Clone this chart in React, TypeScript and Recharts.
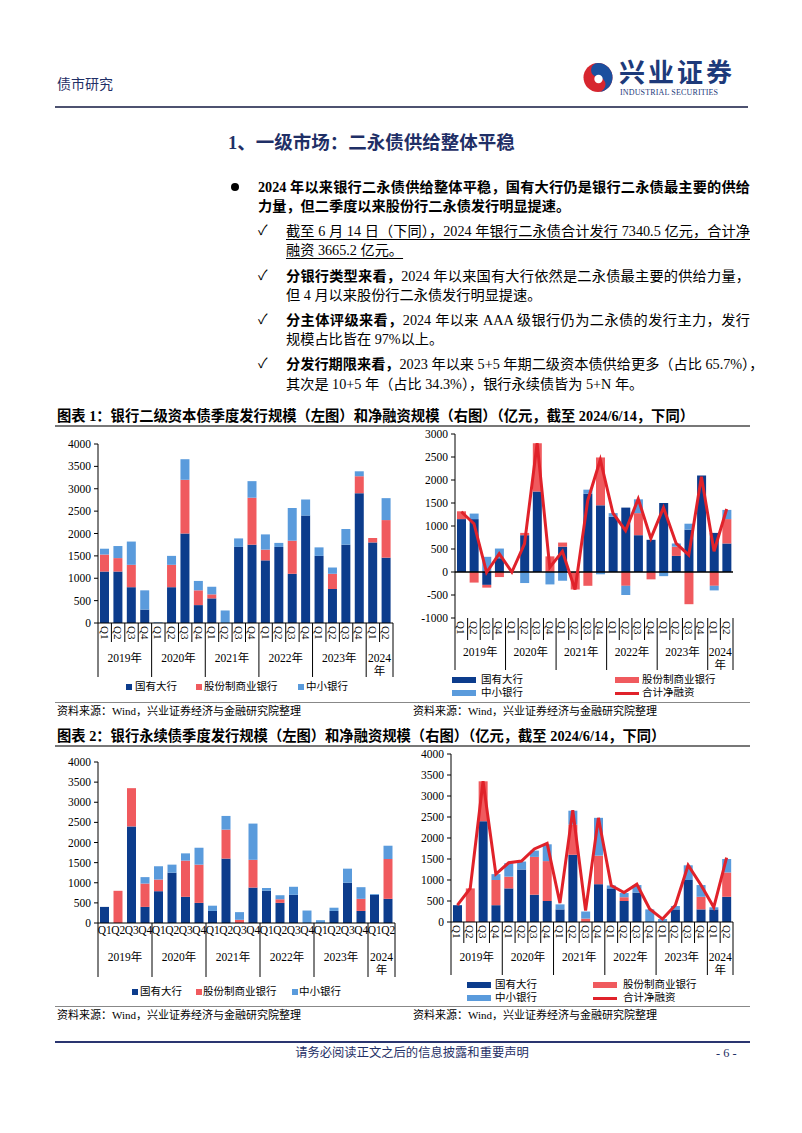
import React from 'react';
import { ComposedChart, Bar, Line, XAxis, YAxis, ReferenceLine } from 'recharts';

const FONT = '"Liberation Serif", "Noto Sans CJK SC", serif';
const DARK = '#0c3c8c';
const RED = '#f05a5e';
const LIGHT = '#5a9bdc';
const NET = '#e0222a';
const NAVY = '#1f2f66';

const QUARTERS = ['Q1', 'Q2', 'Q3', 'Q4', 'Q1', 'Q2', 'Q3', 'Q4', 'Q1', 'Q2', 'Q3', 'Q4',
  'Q1', 'Q2', 'Q3', 'Q4', 'Q1', 'Q2', 'Q3', 'Q4', 'Q1', 'Q2'];
const YEARS = ['2019年', '2020年', '2021年', '2022年', '2023年', '2024年'];
const YEAR_SIZES = [4, 4, 4, 4, 4, 2];
const YEAR_START = YEAR_SIZES.map((_, k) => YEAR_SIZES.slice(0, k).reduce((a, b) => a + b, 0));

// 图表1 左：二级资本债季度发行
const SUB_ISSUE_STATE = [1150, 1150, 800, 300, 0, 800, 2000, 400, 550, 0, 1700, 1750, 1400, 1700, 1100, 2400, 1500, 760, 1750, 2900, 1800, 1460];
const SUB_ISSUE_JOINT = [380, 300, 500, 0, 0, 500, 1200, 330, 90, 0, 0, 1050, 240, 0, 740, 0, 0, 340, 0, 380, 100, 840];
const SUB_ISSUE_SMALL = [130, 270, 520, 430, 15, 200, 460, 210, 170, 280, 190, 370, 340, 90, 730, 360, 190, 140, 350, 110, 0, 490];

// 图表1 右：二级资本债净融资
const SUB_NET_STATE = [1150, 1150, -280, 300, 0, 800, 1750, 0, 550, 0, 1700, 1450, 1200, 1400, 800, 700, 1500, 350, 920, 2100, 850, 620];
const SUB_NET_JOINT = [170, -230, -60, -110, 0, 50, 1050, 340, 90, -380, -300, 1040, 0, -300, 480, -160, 0, 200, -700, 0, -300, 530];
const SUB_NET_SMALL = [0, 120, 330, 210, 0, -240, 0, -270, -190, 0, 90, -50, 80, -200, 300, 0, -90, 70, 130, 0, -100, 200];
const SUB_NET_TOTAL = [1310, 1050, -10, 400, 0, 610, 2800, 100, 450, -380, 1550, 2440, 1280, 900, 1590, 730, 1400, 620, 370, 2070, 450, 1370];

// 图表2 左：永续债季度发行
const PERP_ISSUE_STATE = [400, 0, 2400, 400, 790, 1250, 650, 500, 300, 1600, 0, 880, 800, 500, 700, 0, 0, 300, 1000, 300, 700, 600];
const PERP_ISSUE_JOINT = [0, 800, 950, 580, 290, 0, 900, 950, 0, 720, 80, 690, 0, 90, 0, 0, 0, 0, 0, 300, 0, 990];
const PERP_ISSUE_SMALL = [0, 0, 0, 160, 330, 200, 180, 420, 130, 340, 190, 900, 70, 100, 200, 310, 70, 80, 350, 290, 20, 330];

// 图表2 右：永续债净融资
const PERP_NET_STATE = [400, 0, 2400, 400, 800, 1250, 650, 500, 300, 1600, 0, 900, 800, 500, 700, 0, 0, 300, 1000, 300, 300, 600];
const PERP_NET_JOINT = [0, 800, 950, 600, 280, 0, 900, 950, 0, 720, 80, 680, 0, 90, 0, 0, 0, 0, 0, 300, 0, 580];
const PERP_NET_SMALL = [0, 0, 0, 140, 320, 190, 150, 400, 120, 330, 170, 900, 70, 100, 180, 300, 70, 80, 350, 280, 50, 320];
const PERP_NET_TOTAL = [400, 800, 3350, 1140, 1410, 1450, 1740, 1870, 450, 2660, 270, 2480, 870, 700, 900, 310, 70, 400, 1350, 880, 350, 1530];

const rows = (state: number[], joint: number[], small: number[], net?: number[]) =>
  QUARTERS.map((q, i) => ({ q, state: state[i], joint: joint[i], small: small[i], net: net ? net[i] : undefined }));

type AxisCfg = { band: number; vertical: boolean; short: number; long: number; yearDy: number };

const makeTick = (cfg: AxisCfg) => (props: any) => {
  const { x, y, payload } = props;
  const i: number = props.index ?? payload.index;
  const left = x - cfg.band / 2;
  const g = YEAR_START.indexOf(i);
  const last = i === QUARTERS.length - 1;
  const cx = g >= 0 ? left + (YEAR_SIZES[g] * cfg.band) / 2 : 0;
  return (
    <g>
      {(g >= 0 || cfg.short > 0) && (
        <line x1={left} x2={left} y1={y} y2={y + (g >= 0 ? cfg.long : cfg.short)} stroke="#000" strokeWidth={1} />
      )}
      {last && <line x1={x + cfg.band / 2} x2={x + cfg.band / 2} y1={y} y2={y + cfg.long} stroke="#000" />}
      {cfg.vertical ? (
        <text transform={`translate(${x},${y + 3}) rotate(90)`} textAnchor="start" dominantBaseline="central"
          fontSize={11} fontFamily={FONT} fill="#000">{payload.value}</text>
      ) : (
        <text x={x} y={y + 7} textAnchor="middle" dominantBaseline="central" fontSize={11.5} fontFamily={FONT} fill="#000">
          {payload.value}
        </text>
      )}
      {g >= 0 && (YEAR_SIZES[g] >= 4 ? (
        <text x={cx} y={y + cfg.yearDy} textAnchor="middle" dominantBaseline="central"
          fontSize={11.5} fontFamily={FONT} fill="#000">{YEARS[g]}</text>
      ) : (
        <text x={cx} y={y + cfg.yearDy} textAnchor="middle" dominantBaseline="central"
          fontSize={11.5} fontFamily={FONT} fill="#000">
          <tspan x={cx}>{YEARS[g].slice(0, 4)}</tspan>
          <tspan x={cx} dy={12.5}>{YEARS[g].slice(4)}</tspan>
        </text>
      ))}
    </g>
  );
};

type ChartProps = {
  left: number; top: number; width: number; height: number; yW: number; mr: number; xH: number;
  data: any[]; domain: [number, number]; ticks: number[]; vertical: boolean; short: number; long: number;
  yearDy: number; signed?: boolean; withNet?: boolean; barSize?: number;
};

const StackChart = (p: ChartProps) => {
  const band = (p.width - p.yW - p.mr) / QUARTERS.length;
  const Tick = makeTick({ band, vertical: p.vertical, short: p.short, long: p.long, yearDy: p.yearDy });
  return (
    <div style={{ position: 'absolute', left: p.left, top: p.top }}>
      <ComposedChart width={p.width} height={p.height} data={p.data}
        margin={{ top: 8, right: p.mr, left: 0, bottom: 0 }} stackOffset={p.signed ? 'sign' : 'none'} barGap={0}>
        <XAxis dataKey="q" interval={0} height={p.xH} tickSize={0} tickMargin={0} tickLine={false}
          axisLine={p.signed ? false : { stroke: '#000' }} tick={<Tick />} />
        <YAxis domain={p.domain} ticks={p.ticks} interval={0} width={p.yW} tickSize={4} tickMargin={3}
          axisLine={{ stroke: '#000' }} tickLine={{ stroke: '#000' }}
          tick={{ fontSize: 11.5, fill: '#000', fontFamily: FONT }} />
        <Bar dataKey="state" stackId="s" fill={DARK} barSize={p.barSize ?? 9} isAnimationActive={false} />
        <Bar dataKey="joint" stackId="s" fill={RED} barSize={p.barSize ?? 9} isAnimationActive={false} />
        <Bar dataKey="small" stackId="s" fill={LIGHT} barSize={p.barSize ?? 9} isAnimationActive={false} />
        {p.signed && <ReferenceLine y={0} stroke="#000" strokeWidth={1.3} />}
        {p.withNet && (
          <Line dataKey="net" type="linear" stroke={NET} strokeWidth={3} dot={false} isAnimationActive={false} />
        )}
      </ComposedChart>
    </div>
  );
};

const SQ = ({ x, y, color }: { x: number; y: number; color: string }) => (
  <div style={{ position: 'absolute', left: x, top: y - 3, width: 6, height: 6, background: color }} />
);
const Mark = ({ x, y, color, line }: { x: number; y: number; color: string; line?: boolean }) => (
  <div style={{ position: 'absolute', left: x, top: y - (line ? 1.5 : 3), width: 24, height: line ? 3 : 6, background: color }} />
);
const Txt = ({ x, y, size = 10.5, children, bold, color = '#000', spacing = 0 }: any) => (
  <div style={{ position: 'absolute', left: x, top: y - 10, height: 20, lineHeight: '20px', fontSize: size,
    fontWeight: bold ? 700 : 400, color, whiteSpace: 'nowrap', letterSpacing: spacing }}>{children}</div>
);
const Para = ({ x, y, w, children, bold, underline, justify = true }: any) => (
  <div style={{ position: 'absolute', left: x, top: y - 10, width: w, height: 20, lineHeight: '20px', fontSize: 14.2,
    fontWeight: bold ? 700 : 400, textAlign: justify ? 'justify' : 'left', textAlignLast: justify ? 'justify' : 'left',
    whiteSpace: 'nowrap', textDecoration: underline ? 'underline' : 'none', textUnderlineOffset: 3, color: '#000' }}>{children}</div>
);
const Rule = ({ y, color = '#666', h = 1.5, x1 = 55, x2 = 750 }: any) => (
  <div style={{ position: 'absolute', left: x1, top: y - h / 2, width: x2 - x1, height: h, background: color }} />
);
const Check = ({ y }: { y: number }) => <Txt x={258} y={y} size={14}>✓</Txt>;

const TX = 258;
const TW = 492;
const CX = 286;
const CW = 464;

const App = () => {
  const subIssue = rows(SUB_ISSUE_STATE, SUB_ISSUE_JOINT, SUB_ISSUE_SMALL);
  const subNet = rows(SUB_NET_STATE, SUB_NET_JOINT, SUB_NET_SMALL, SUB_NET_TOTAL);
  const perpIssue = rows(PERP_ISSUE_STATE, PERP_ISSUE_JOINT, PERP_ISSUE_SMALL);
  const perpNet = rows(PERP_NET_STATE, PERP_NET_JOINT, PERP_NET_SMALL, PERP_NET_TOTAL);
  const t4000 = [0, 500, 1000, 1500, 2000, 2500, 3000, 3500, 4000];

  return (
    <div style={{ position: 'absolute', left: 0, top: 0, width: 802, height: 1133, background: '#fff', fontFamily: FONT, overflow: 'hidden' }}>
      {/* 页眉 */}
      <Txt x={57} y={85} size={14} color={NAVY}>债市研究</Txt>
      <svg style={{ position: 'absolute', left: 583, top: 62 }} width={30} height={31}>
        <circle cx={15} cy={15.5} r={14.5} fill="#d7262f" />
        <path d="M15 1 A14.5 14.5 0 0 1 15 30 A7.5 7.5 0 0 0 15 15 A7 7 0 0 1 15 1 Z" fill="#1b4f9e" />
        <circle cx={15.5} cy={17} r={4.2} fill="#fff" />
      </svg>
      <div style={{ position: 'absolute', left: 619, top: 56, fontSize: 26, fontWeight: 700, color: '#1d3a7a', letterSpacing: 3,
        fontFamily: '"Noto Sans CJK SC", sans-serif', lineHeight: '30px', whiteSpace: 'nowrap' }}>兴业证券</div>
      <div style={{ position: 'absolute', left: 620, top: 88, fontSize: 8, color: '#1d3a7a', lineHeight: '9px',
        letterSpacing: 0.15, whiteSpace: 'nowrap' }}>INDUSTRIAL SECURITIES</div>
      <Rule y={107} color="#4d5270" h={1.5} x1={55} x2={748} />

      {/* 标题与正文 */}
      <Txt x={228} y={143} size={18.5} bold color={NAVY}>1、一级市场：二永债供给整体平稳</Txt>
      <div style={{ position: 'absolute', left: 231, top: 183, width: 8, height: 8, borderRadius: 4, background: '#000' }} />
      <Para x={TX} y={187} w={TW} bold>2024 年以来银行二永债供给整体平稳，国有大行仍是银行二永债最主要的供给</Para>
      <Para x={TX} y={206} w={TW} bold justify={false}>力量，但二季度以来股份行二永债发行明显提速。</Para>

      <Check y={231} />
      <Para x={CX} y={231} w={CW} underline>截至 6 月 14 日（下同），2024 年银行二永债合计发行 7340.5 亿元，合计净</Para>
      <Para x={CX} y={250} w={CW} underline justify={false}>融资 3665.2 亿元。</Para>

      <Check y={276} />
      <Para x={CX} y={276} w={CW}><b>分银行类型来看，</b>2024 年以来国有大行依然是二永债最主要的供给力量，</Para>
      <Para x={CX} y={295} w={CW} justify={false}>但 4 月以来股份行二永债发行明显提速。</Para>

      <Check y={320} />
      <Para x={CX} y={320} w={CW}><b>分主体评级来看，</b>2024 年以来 AAA 级银行仍为二永债的发行主力，发行</Para>
      <Para x={CX} y={339} w={CW} justify={false}>规模占比皆在 97%以上。</Para>

      <Check y={364} />
      <Para x={CX} y={364} w={CW}><b>分发行期限来看，</b>2023 年以来 5+5 年期二级资本债供给更多（占比 65.7%），</Para>
      <Para x={CX} y={383.5} w={CW} justify={false}>其次是 10+5 年（占比 34.3%），银行永续债皆为 5+N 年。</Para>

      {/* 图表1 */}
      <Txt x={57} y={416} size={14.3} bold>图表 1：银行二级资本债季度发行规模（左图）和净融资规模（右图）（亿元，截至 2024/6/14，下同）</Txt>
      <Rule y={426} color="#777" h={1.5} />

      <StackChart left={60} top={436} width={340} height={243} yW={38} mr={7} xH={56} data={subIssue}
        domain={[0, 4000]} ticks={t4000} vertical short={19} long={54} yearDy={35} />
      <SQ x={126} y={687} color={DARK} /><Txt x={135} y={687}>国有大行</Txt>
      <SQ x={196} y={687} color={RED} /><Txt x={204} y={687}>股份制商业银行</Txt>
      <SQ x={298} y={687} color={LIGHT} /><Txt x={306} y={687}>中小银行</Txt>

      <StackChart left={405} top={426} width={335} height={246} yW={50} mr={7} xH={54} data={subNet}
        domain={[-1000, 3000]} ticks={[-1000, -500, 0, 500, 1000, 1500, 2000, 2500, 3000]} vertical short={22} long={52}
        yearDy={34} signed withNet />
      <Mark x={452} y={680} color={DARK} /><Txt x={481} y={680}>国有大行</Txt>
      <Mark x={615} y={680} color={RED} /><Txt x={642} y={680}>股份制商业银行</Txt>
      <Mark x={452} y={693} color={LIGHT} /><Txt x={481} y={693}>中小银行</Txt>
      <Mark x={615} y={693} color={NET} line /><Txt x={642} y={693}>合计净融资</Txt>

      <Rule y={702} color="#888" h={1} />
      <Txt x={57} y={711} size={11}>资料来源：Wind，兴业证券经济与金融研究院整理</Txt>
      <Txt x={413} y={711} size={11}>资料来源：Wind，兴业证券经济与金融研究院整理</Txt>

      {/* 图表2 */}
      <Txt x={57} y={736} size={14.3} bold>图表 2：银行永续债季度发行规模（左图）和净融资规模（右图）（亿元，截至 2024/6/14，下同）</Txt>
      <Rule y={746} color="#777" h={1.5} />

      <StackChart left={60} top={754} width={340} height={224} yW={38} mr={5} xH={55} data={perpIssue}
        domain={[0, 4000]} ticks={t4000} vertical={false} short={0} long={54} yearDy={34} />
      <SQ x={132} y={992} color={DARK} /><Txt x={140} y={992}>国有大行</Txt>
      <SQ x={196} y={992} color={RED} /><Txt x={203} y={992}>股份制商业银行</Txt>
      <SQ x={292} y={992} color={LIGHT} /><Txt x={299} y={992}>中小银行</Txt>

      <StackChart left={405} top={746} width={335} height={231} yW={46} mr={7} xH={55} data={perpNet}
        domain={[0, 4000]} ticks={t4000} vertical short={21} long={53} yearDy={35} withNet />
      <Mark x={467} y={985} color={DARK} /><Txt x={495} y={985}>国有大行</Txt>
      <Mark x={593} y={985} color={RED} /><Txt x={623} y={985}>股份制商业银行</Txt>
      <Mark x={467} y={998} color={LIGHT} /><Txt x={495} y={998}>中小银行</Txt>
      <Mark x={593} y={998} color={NET} line /><Txt x={623} y={998}>合计净融资</Txt>

      <Rule y={1006} color="#888" h={1} />
      <Txt x={57} y={1015} size={11}>资料来源：Wind，兴业证券经济与金融研究院整理</Txt>
      <Txt x={413} y={1015} size={11}>资料来源：Wind，兴业证券经济与金融研究院整理</Txt>

      {/* 页脚 */}
      <Rule y={1042} color="#2a3570" h={2} x1={55} x2={750} />
      <div style={{ position: 'absolute', left: 295, width: 234, top: 1043, textAlign: 'center', fontSize: 12.3, color: NAVY,
        lineHeight: '20px', whiteSpace: 'nowrap' }}>请务必阅读正文之后的信息披露和重要声明</div>
      <Txt x={716} y={1053} size={12.3} color={NAVY}>- 6 -</Txt>
    </div>
  );
};

export default App;
